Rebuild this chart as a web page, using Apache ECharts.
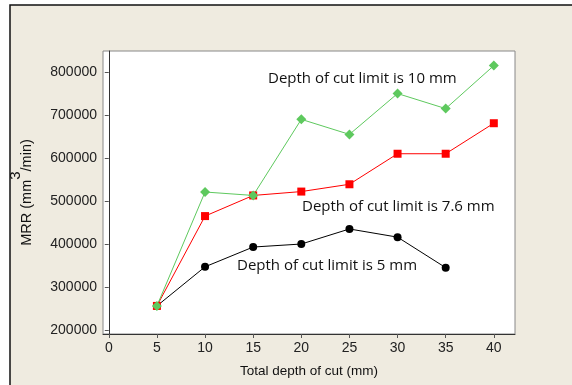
<!DOCTYPE html>
<html><head><meta charset="utf-8">
<script src="https://cdn.jsdelivr.net/npm/echarts@6/dist/echarts.min.js"></script>
<style>html,body{margin:0;padding:0;background:#fff}#c{width:572px;height:385px}</style>
</head><body><div id="c"></div>
<script>
const depth = [5, 10, 15, 20, 25, 30, 35, 40];
const xTicks = [0, 5, 10, 15, 20, 25, 30, 35, 40];
const yTicks = [200000, 300000, 400000, 500000, 600000, 700000, 800000];
const mrr5 = [256000, 347000, 393000, 400000, 435000, 416000, 345000, null];
const mrr76 = [256000, 465000, 513000, 522000, 539000, 610000, 610000, 681000];
const mrr10 = [256000, 521000, 513000, 690000, 655000, 750000, 715000, 815000];
const labels = ['Depth of cut limit is 5 mm', 'Depth of cut limit is 7.6 mm', 'Depth of cut limit is 10 mm'];

const pair = v => depth.map((d, i) => [d, v[i]]).filter(p => p[1] != null);
const chart = echarts.init(document.getElementById('c'));
const sans = '"Liberation Sans", Arial, sans-serif';
const tickFont = {fontFamily: sans, fontSize: 14, color: '#222'};
const annFont = {fontFamily: '"Open Sans", sans-serif', fontSize: 15, fill: '#111'};
chart.setOption({
  animation: false,
  backgroundColor: '#fff',
  graphic: [
    {type: 'rect', z: -10, shape: {x: 10, y: 5, width: 600, height: 420},
     style: {fill: '#efebe0', stroke: '#111', lineWidth: 1.5}},
    {type: 'text', left: 268, top: 71, style: Object.assign({text: labels[2]}, annFont)},
    {type: 'text', left: 302, top: 199, style: Object.assign({text: labels[1]}, annFont)},
    {type: 'text', left: 237, top: 258, style: Object.assign({text: labels[0]}, annFont)}
  ],
  grid: {left: 101, top: 51, width: 414, height: 283, show: true,
         backgroundColor: '#fff', borderColor: '#888', borderWidth: 1},
  xAxis: {
    type: 'value', min: -0.6, max: 42.2,
    name: 'Total depth of cut (mm)', nameLocation: 'middle', nameGap: 30,
    nameTextStyle: {fontFamily: sans, fontSize: 13.5, color: '#111'},
    axisLine: {show: true, lineStyle: {color: '#333', width: 1}},
    axisTick: {show: true, length: 4, customValues: xTicks, lineStyle: {color: '#555'}},
    axisLabel: Object.assign({customValues: xTicks, margin: 7}, tickFont),
    splitLine: {show: false}
  },
  yAxis: {
    type: 'value', min: 190700, max: 849000,
    name: '{n|MRR (mm}{s|3}{n|/min)}', nameLocation: 'middle', nameGap: 69, nameRotate: 90,
    nameTextStyle: {fontFamily: sans, fontSize: 14, color: '#111',
      rich: {
        n: {fontFamily: sans, fontSize: 14.5, color: '#111', verticalAlign: 'bottom', lineHeight: 26},
        s: {fontFamily: sans, fontSize: 15, color: '#111', verticalAlign: 'top', lineHeight: 26}
      }},
    axisLine: {show: true, lineStyle: {color: '#333', width: 1}},
    axisTick: {show: true, length: 4, customValues: yTicks, lineStyle: {color: '#555'}},
    axisLabel: Object.assign({customValues: yTicks, margin: 6, formatter: v => String(v)}, tickFont),
    splitLine: {show: false}
  },
  series: [
    {type: 'line', data: pair(mrr5), symbol: 'circle', symbolSize: 8,
     itemStyle: {color: '#000'}, lineStyle: {color: '#000', width: 1}},
    {type: 'line', data: pair(mrr76), symbol: 'rect', symbolSize: 8,
     itemStyle: {color: '#f00'}, lineStyle: {color: '#f00', width: 1}},
    {type: 'line', data: pair(mrr10), symbol: 'diamond', symbolSize: 10,
     itemStyle: {color: '#5ec95e'}, lineStyle: {color: '#5ec95e', width: 1}}
  ]
});
</script></body></html>
